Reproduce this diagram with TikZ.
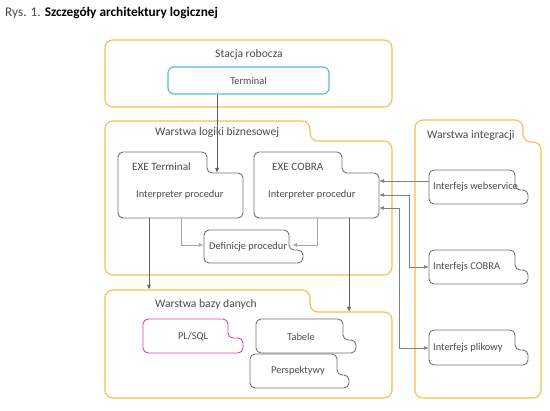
\documentclass[tikz,border=0pt]{standalone}
\usepackage{fontspec}
\setmainfont{Carlito}
\usetikzlibrary{arrows.meta,fit}
\definecolor{orng}{HTML}{F5C04A}
\definecolor{blu}{HTML}{4DB8E8}
\definecolor{mag}{HTML}{E0409A}
\definecolor{gbox}{HTML}{707070}
\definecolor{txt}{HTML}{4A4A4A}
\newcommand\folder[8]{%
  \coordinate (#1-nw) at (#2,#3);
  \coordinate (#1-se) at (#4,#5);
  \coordinate (#1-step) at (#6,#7);
  \node[fit=(#1-nw)(#1-se),inner sep=0pt] (#1) {};
  \draw[#8] (#2,#3) -- (#6,#3) -- (#6,#7) -- (#4,#7) -- (#4,#5) -- (#2,#5) -- cycle;
}
\begin{document}
\begin{tikzpicture}[x=1pt,y=-1pt,
  bigbox/.style={draw=orng,line width=1.1pt,rounded corners=8pt},
  gbx/.style={draw=gbox,line width=0.9pt,rounded corners=5pt},
  mbx/.style={draw=mag,line width=0.9pt,rounded corners=5pt},
  ttl/.style={text=txt,font=\fontsize{11.6}{13}\selectfont,anchor=west,inner sep=0pt},
  lbl/.style={text=txt,font=\fontsize{10.4}{12}\selectfont,inner sep=0pt},
  arr/.style={draw=black!62,line width=0.8pt,-{Latex[length=5pt,width=4pt]}},
  larr/.style={draw=black!35,line width=0.8pt,-{Latex[length=5pt,width=4pt]}},
  iarr/.style={draw=black!50,line width=0.7pt,{Latex[length=5pt,width=4pt]}-{Latex[length=5pt,width=4pt]}},
  warr/.style={draw=black!50,line width=0.7pt,-{Latex[length=5pt,width=4pt]}}]
\useasboundingbox (0,0) rectangle (550,411);
\node[anchor=west,inner sep=0pt,font=\fontsize{13.3}{15}\selectfont] (title) at (5,13) {\textcolor{txt}{Rys. 1.} \textbf{Szczegóły architektury logicznej}};
% Stacja robocza
\draw[bigbox] (105,40) rectangle (392,107);
\node[fit={(105,40)(392,107)},inner sep=0pt] (stacja) {};
\node[lbl,font=\fontsize{11.6}{13}\selectfont] (stacjat) at (249,54) {Stacja robocza};
\node[draw=blu,line width=1.1pt,rounded corners=6pt,minimum width=161pt,minimum height=27pt,lbl] (term) at (248.5,80.5) {Terminal};
% Warstwa logiki
\folder{logika}{105}{121}{392}{275}{310}{141}{bigbox}
\node[ttl] (logikat) at (155,132) {Warstwa logiki biznesowej};
\folder{exet}{118}{152}{243}{218}{207}{173}{gbx}
\node[ttl,font=\fontsize{11.2}{13}\selectfont] (exett) at (132,167) {EXE Terminal};
\node[lbl,anchor=west] (exetip) at (136,195) {Interpreter procedur};
\folder{exec}{254}{152}{379}{218}{342}{173}{gbx}
\node[ttl,font=\fontsize{11.2}{13}\selectfont] (exect) at (272,167) {EXE COBRA};
\node[lbl,anchor=west] (execip) at (268,195) {Interpreter procedur};
\folder{defp}{204}{230}{303}{263}{289}{250}{gbx}
\node[lbl,anchor=west] (defpt) at (209,247) {Definicje procedur};
% Warstwa bazy danych
\folder{bazy}{105}{290}{392}{398}{310}{312}{bigbox}
\node[ttl] (bazyt) at (155,304) {Warstwa bazy danych};
\folder{plsql}{143}{319}{243}{353}{228}{338}{mbx}
\node[lbl] (plsqlt) at (193,337) {PL/SQL};
\folder{tab}{256}{319}{356}{353}{343}{340}{gbx}
\node[lbl] (tabt) at (301,337) {Tabele};
\folder{persp}{250}{354}{349}{388}{337}{375}{gbx}
\node[lbl] (perspt) at (298,371) {Perspektywy};
% Warstwa integracji
\folder{integ}{415}{120}{541}{398}{523}{142}{bigbox}
\node[ttl] (integt) at (427,136) {Warstwa integracji};
\folder{ws}{429}{170}{528}{204}{515}{190}{gbx}
\node[lbl,anchor=west] (wst) at (433,187) {Interfejs webservice};
\folder{icob}{429}{250}{528}{284}{515}{270}{gbx}
\node[lbl,anchor=west] (icobt) at (433,267) {Interfejs COBRA};
\folder{ipl}{429}{330}{528}{365}{515}{350}{gbx}
\node[lbl,anchor=west] (iplt) at (433,348) {Interfejs plikowy};
% connectors
\draw[arr] (term.south -| 217,0) -- (217,0 |- exet-step);
\draw[arr] (exet.south -| 149,0) -- (149,0 |- bazy.north);
\draw[arr] (exec.south -| 349,0) -- (349,0 |- bazy-step);
\draw[larr] (exet.south -| 181,0) |- (defp.west |- 0,245);
\draw[larr] (exec.south -| 317,0) |- (292,245);
\draw[warr] (ws.west |- 0,181) -- (exec.east |- 0,181);
\draw[iarr] (exec.east |- 0,195) -- (409,195) |- (icob.west |- 0,267);
\draw[iarr] (exec.east |- 0,208) -- (399,208) |- (ipl.west |- 0,348);
\end{tikzpicture}
\end{document}
